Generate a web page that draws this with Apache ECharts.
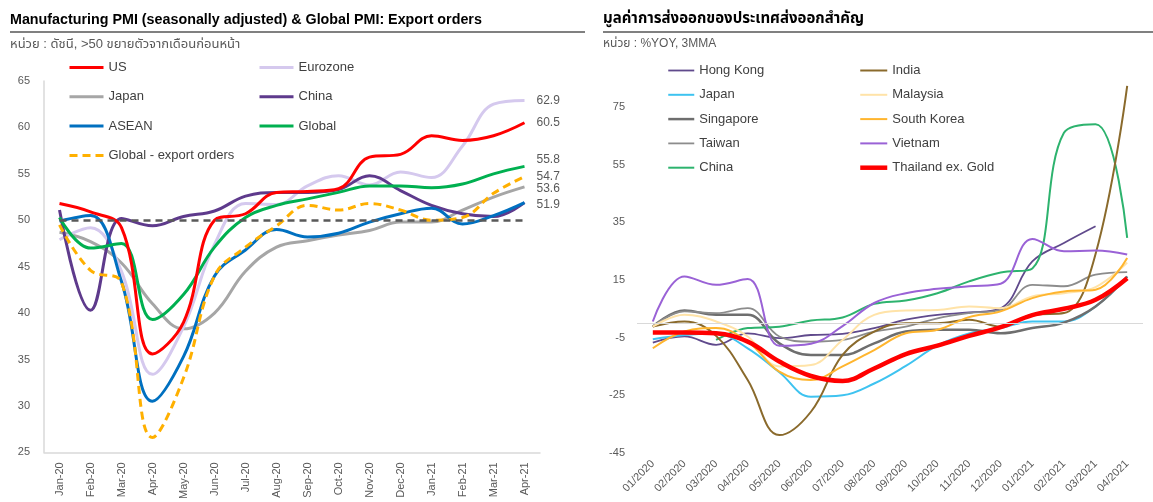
<!DOCTYPE html>
<html>
<head>
<meta charset="utf-8">
<script src="https://cdn.jsdelivr.net/npm/echarts@6/dist/echarts.min.js"></script>
<style>
html,body{margin:0;padding:0;background:#fff;}
#main{width:1153px;height:502px;}
</style>
</head>
<body>
<div id="main"></div>
<script>
// ---------- Left chart data ----------
const months = ['Jan-20','Feb-20','Mar-20','Apr-20','May-20','Jun-20','Jul-20','Aug-20','Sep-20','Oct-20','Nov-20','Dec-20','Jan-21','Feb-21','Mar-21','Apr-21'];
const us        = [51.8, 50.9, 49.2, 35.6, 39.0, 50.0, 50.7, 53.0, 53.1, 53.4, 56.8, 57.1, 59.1, 58.6, 59.1, 60.5];
const eurozone  = [47.9, 49.2, 44.5, 33.4, 38.5, 47.4, 51.8, 51.7, 53.7, 54.8, 53.8, 55.2, 54.6, 58.0, 62.5, 62.9];
const japan     = [48.7, 47.7, 45.4, 41.0, 38.3, 40.0, 44.5, 47.1, 47.8, 48.4, 48.9, 49.8, 49.8, 51.1, 52.5, 53.6];
const china     = [51.1, 40.3, 50.2, 49.4, 50.4, 51.0, 52.6, 53.0, 53.0, 53.3, 54.8, 53.2, 51.6, 50.7, 50.4, 51.9];
const asean     = [49.9, 50.5, 43.4, 30.5, 35.3, 44.0, 46.8, 49.0, 48.2, 48.6, 49.8, 50.7, 51.3, 49.6, 50.5, 51.9];
const globalPmi = [50.3, 47.0, 47.5, 39.3, 42.0, 47.1, 50.3, 51.6, 52.3, 53.0, 53.7, 53.7, 53.5, 53.9, 55.0, 55.8];
const exportOrders = [49.5, 44.6, 43.3, 26.6, 33.0, 44.0, 47.1, 49.4, 51.6, 51.1, 51.8, 51.1, 50.0, 50.3, 52.9, 54.7];
const threshold = 50;

// ---------- Right chart data ----------
const rmonths = ['01/2020','02/2020','03/2020','04/2020','05/2020','06/2020','07/2020','08/2020','09/2020','10/2020','11/2020','12/2020','01/2021','02/2021','03/2021','04/2021'];
const hongKong   = [-6.7, -4.6, -7.5, -3.5, -5.2, -4.1, -3.7, -1.7, 1.2, 2.9, 3.7, 5.2, 21.4, 27.8, 33.6, null];
const india      = [-1.2, 0.6, -4.4, -19.7, -38.8, -30.7, -11.0, -2.9, 0.0, 0.0, 1.2, -1.2, 2.9, 3.5, 24.0, 82.3];
const japanX     = [-5.6, -4.1, -3.7, -8.7, -17.0, -25.5, -25.0, -20.9, -14.8, -7.8, -3.6, -1.7, 0.6, 0.6, 5.8, 16.2];
const malaysia   = [-1.2, 2.9, 0.6, -4.6, -15.0, -14.5, -5.8, 2.9, 4.4, 4.6, 5.8, 5.2, 9.3, 10.4, 12.5, 21.0];
const singapore  = [-1.2, 4.4, 2.9, 2.9, -7.0, -11.0, -11.0, -7.0, -2.9, -2.3, -2.3, -3.5, -1.7, 0.2, 5.8, 16.2];
const southKorea = [-8.7, -2.9, -1.7, -6.4, -16.8, -19.7, -15.0, -9.3, -3.5, -2.3, 2.1, 4.1, 8.7, 11.0, 11.6, 22.6];
const taiwan     = [-1.2, 4.1, 3.5, 5.2, -4.6, -6.4, -5.8, -2.9, -1.2, 1.7, 3.5, 4.6, 13.3, 12.8, 16.8, 17.7];
const vietnam    = [0.6, 16.2, 13.3, 15.3, -7.8, -7.1, -1.0, 7.0, 10.4, 11.9, 12.8, 13.7, 29.2, 24.9, 25.2, 23.8];
const chinaX     = [null, null, -5.8, -1.7, -1.2, 0.9, 2.0, 6.7, 7.9, 10.4, 14.5, 17.6, 19.0, 66.0, 69.0, 29.6];
const thailand   = [-3.2, -3.2, -3.5, -6.4, -13.3, -18.3, -20.0, -15.7, -10.7, -7.8, -4.4, -1.4, 2.8, 5.0, 8.1, 15.6];
const zeroLine = 0;

const FONT = '"Liberation Sans", Arial, "Noto Sans", "Noto Sans Thai", Tahoma, sans-serif';
const GRAY = '#595959';

function lSeries(name, data, color, extra) {
  return Object.assign({
    name: name, type: 'line', data: data, xAxisIndex: 0, yAxisIndex: 0,
    smooth: 0.4, symbol: 'none', connectNulls: false,
    lineStyle: {color: color, width: 3}, itemStyle: {color: color},
    emphasis: {disabled: true}, animation: false
  }, extra || {});
}
function endLab(dy) {
  return {show: true, distance: 12, offset: [0, dy], color: GRAY, fontSize: 12, fontFamily: FONT,
    formatter: p => (typeof p.value === 'number' ? p.value : p.value[1]).toFixed(1)};
}
function rSeries(name, data, color, width, extra) {
  return Object.assign({
    name: 'R:' + name, type: 'line', data: data, xAxisIndex: 1, yAxisIndex: 1,
    smooth: 0.4, symbol: 'none',
    lineStyle: {color: color, width: width}, itemStyle: {color: color},
    emphasis: {disabled: true}, animation: false
  }, extra || {});
}
const legendBase = {orient: 'vertical', padding: 0, selectedMode: false,
  itemStyle: {opacity: 0, borderWidth: 0},
  lineStyle: {width: 'inherit', type: 'inherit'},
  textStyle: {fontSize: 13, color: '#404040', fontFamily: FONT}};

const option = {
  animation: false,
  textStyle: {fontFamily: FONT},
  title: [
    {text: 'Manufacturing PMI (seasonally adjusted) & Global PMI: Export orders', left: 10, top: 13, padding: 0,
      textStyle: {fontSize: 14.3, fontWeight: 'bold', color: '#000', fontFamily: FONT}},
    {text: 'หน่วย : ดัชนี, >50 ขยายตัวจากเดือนก่อนหน้า', left: 10, top: 38, padding: 0,
      textStyle: {fontSize: 13, fontWeight: 'normal', color: GRAY, fontFamily: FONT}},
    {text: 'มูลค่าการส่งออกของประเทศส่งออกสำคัญ', left: 603, top: 11, padding: 0,
      textStyle: {fontSize: 15, fontWeight: 'bold', color: '#000', fontFamily: FONT}},
    {text: 'หน่วย : %YOY, 3MMA', left: 603, top: 38, padding: 0,
      textStyle: {fontSize: 12, fontWeight: 'normal', color: GRAY, fontFamily: FONT}}
  ],
  graphic: [
    {type: 'line', shape: {x1: 10, y1: 32, x2: 585, y2: 32}, style: {stroke: '#808080', lineWidth: 2}, silent: true},
    {type: 'line', shape: {x1: 603, y1: 32, x2: 1153, y2: 32}, style: {stroke: '#808080', lineWidth: 2}, silent: true}
  ],
  legend: [
    Object.assign({}, legendBase, {left: 68, top: 61, itemWidth: 34, itemHeight: 14, itemGap: 16.3,
      data: ['US', 'Japan', 'ASEAN', 'Global - export orders']}),
    Object.assign({}, legendBase, {left: 258, top: 61, itemWidth: 34, itemHeight: 14, itemGap: 16.3,
      data: ['Eurozone', 'China', 'Global']}),
    Object.assign({}, legendBase, {left: 667, top: 64, itemWidth: 26, itemHeight: 14, itemGap: 11.3,
      formatter: n => n.replace(/^R:/, ''),
      data: ['R:Hong Kong', 'R:Japan', 'R:Singapore', 'R:Taiwan', 'R:China']}),
    Object.assign({}, legendBase, {left: 858, top: 64, itemWidth: 27, itemHeight: 14, itemGap: 11.3,
      formatter: n => n.replace(/^R:/, ''),
      data: ['R:India', 'R:Malaysia', 'R:South Korea', 'R:Vietnam', 'R:Thailand ex. Gold']})
  ],
  grid: [
    {left: 44, top: 81, width: 496, height: 372},
    {left: 637, top: 78, width: 506, height: 375}
  ],
  xAxis: [
    {type: 'category', gridIndex: 0, data: months, boundaryGap: true,
      axisLine: {show: true, lineStyle: {color: '#d9d9d9', width: 1.5}}, axisTick: {show: false},
      axisLabel: {rotate: 90, margin: 10, fontSize: 11, color: GRAY, interval: 0, fontFamily: FONT},
      splitLine: {show: false}},
    {type: 'category', gridIndex: 1, data: rmonths, boundaryGap: true,
      axisLine: {show: false}, axisTick: {show: false},
      axisLabel: {rotate: 45, margin: 9, fontSize: 11, color: GRAY, interval: 0, fontFamily: FONT},
      splitLine: {show: false}}
  ],
  yAxis: [
    {type: 'value', gridIndex: 0, min: 25, max: 65, interval: 5,
      axisLine: {show: true, lineStyle: {color: '#d9d9d9', width: 1.5}}, axisTick: {show: false},
      axisLabel: {margin: 14, fontSize: 11, color: GRAY, fontFamily: FONT}, splitLine: {show: false}},
    {type: 'value', gridIndex: 1, min: -45, max: 85, interval: 20,
      axisLine: {show: false}, axisTick: {show: false},
      axisLabel: {margin: 12, fontSize: 11, color: GRAY, showMaxLabel: false, fontFamily: FONT}, splitLine: {show: false}}
  ],
  series: [
    lSeries('Japan', japan, '#A6A6A6', {endLabel: endLab(2)}),
    lSeries('Eurozone', eurozone, '#D5C9EE', {endLabel: endLab(0)}),
    lSeries('China', china, '#5E3A8C'),
    lSeries('ASEAN', asean, '#0070C0', {endLabel: endLab(2)}),
    lSeries('Global', globalPmi, '#00B050', {endLabel: endLab(-7)}),
    lSeries('Global - export orders', exportOrders, '#FFB000', {
      lineStyle: {color: '#FFB000', width: 3, type: [8, 5]}, endLabel: endLab(0),
      markLine: {silent: true, symbol: 'none', label: {show: false},
        lineStyle: {color: '#595959', width: 2.5, type: [7, 5]},
        data: [[{coord: [months[0], threshold]}, {coord: [months[months.length - 1], threshold]}]]}
    }),
    lSeries('US', us, '#FF0000', {endLabel: endLab(0)}),

    rSeries('Hong Kong', hongKong, '#604A8C', 1.8, {
      markLine: {silent: true, symbol: 'none', label: {show: false},
        lineStyle: {color: '#d9d9d9', width: 1, type: 'solid'},
        data: [{yAxis: zeroLine}]}
    }),
    rSeries('Japan', japanX, '#3EC3F0', 2),
    rSeries('Singapore', singapore, '#6E6E6E', 2.5),
    rSeries('Taiwan', taiwan, '#8C8C8C', 1.8),
    rSeries('China', chinaX, '#2DB36E', 2),
    rSeries('India', india, '#8A6A2C', 2),
    rSeries('Malaysia', malaysia, '#FFE3A8', 2),
    rSeries('South Korea', southKorea, '#FFB52E', 2),
    rSeries('Vietnam', vietnam, '#9A62D6', 2),
    rSeries('Thailand ex. Gold', thailand, '#FF0000', 4.5)
  ]
};

const chart = echarts.init(document.getElementById('main'), null, {renderer: 'canvas'});
chart.setOption(option);
</script>
</body>
</html>
